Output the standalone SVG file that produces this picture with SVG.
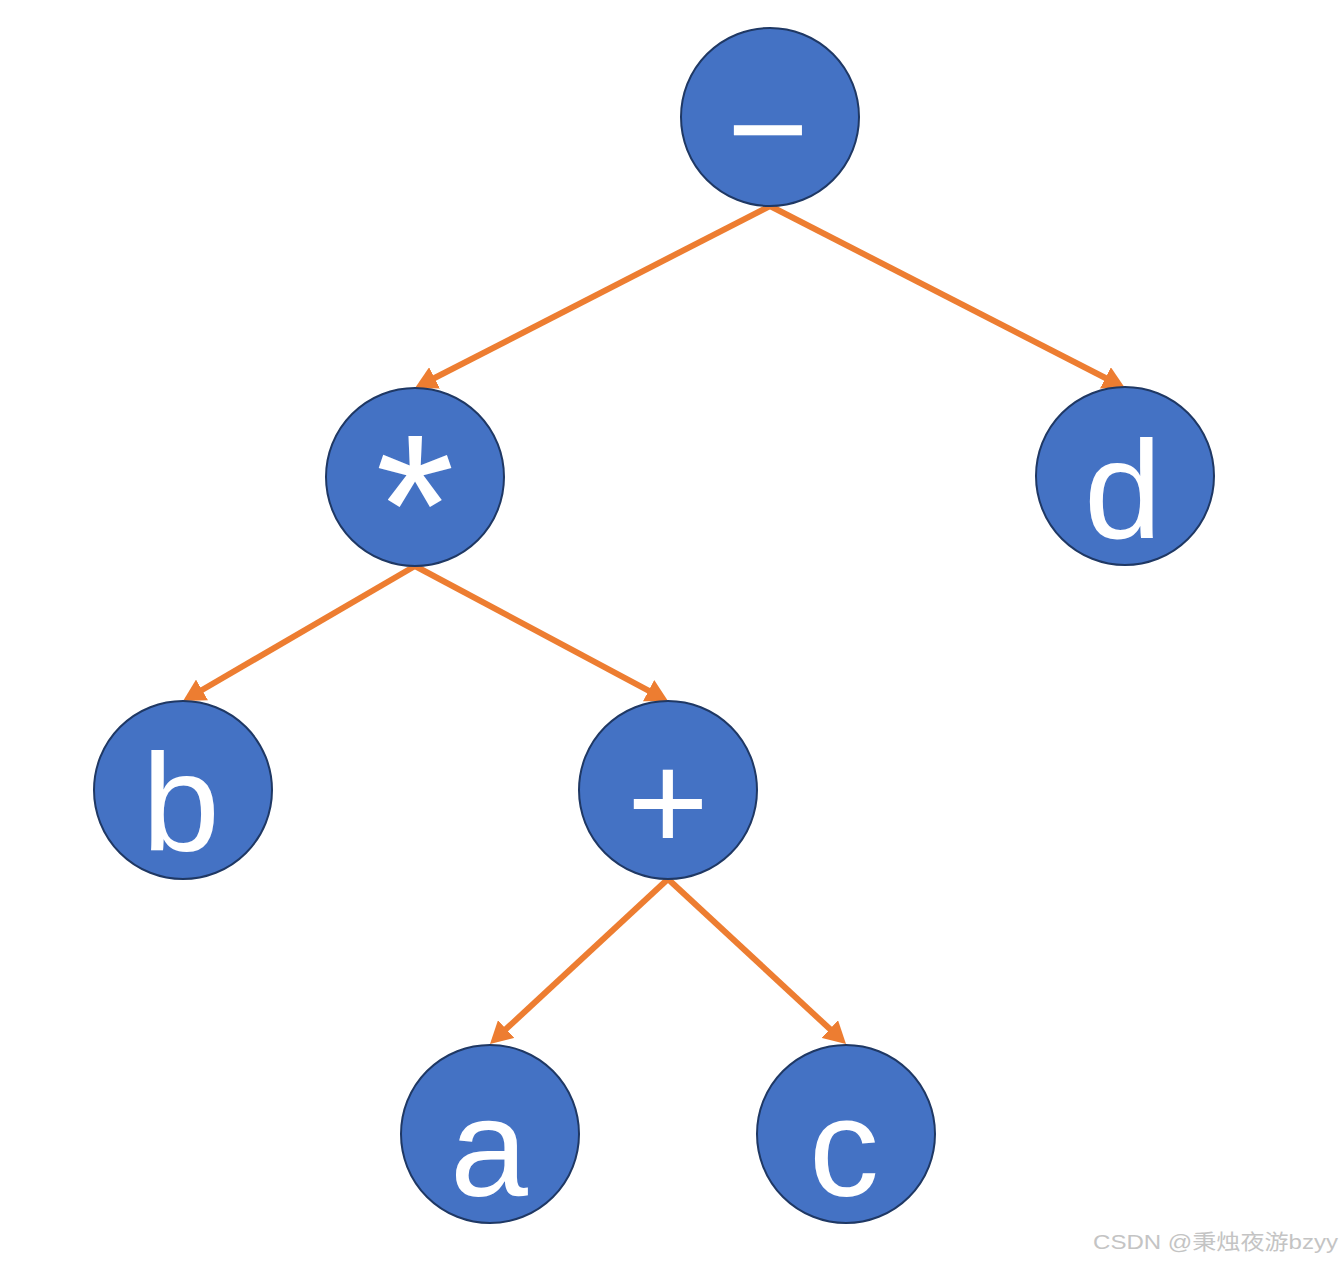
<svg xmlns="http://www.w3.org/2000/svg" width="1343" height="1265" viewBox="0 0 1343 1265">
<style>
.node circle { fill: #4472C4; stroke: #1F3864; stroke-width: 2; }
.node text { fill: #FFFFFF; font-family: "Liberation Sans", Arial, sans-serif; font-size: 140px; text-anchor: middle; }
.edge { stroke: #ED7D31; stroke-width: 6; fill: none; marker-end: url(#arrow); }
.wm { fill: #C4C4C4; font-family: "Liberation Sans", "Noto Sans CJK SC", sans-serif; font-size: 21px; }
</style>
<defs>
<marker id="arrow" markerUnits="userSpaceOnUse" markerWidth="22" markerHeight="24" refX="10" refY="12" orient="auto">
<path d="M0,0 L22,12 L0,24 z" fill="#ED7D31"/>
</marker>
</defs>
<rect width="1343" height="1265" fill="#FFFFFF"/>
<g id="connectors">
<line class="edge" x1="770" y1="206" x2="425.7" y2="382.5"/>
<line class="edge" x1="770" y1="206" x2="1114.3" y2="382.5"/>
<line class="edge" x1="415" y1="566" x2="193.4" y2="695"/>
<line class="edge" x1="415" y1="566" x2="657.4" y2="695.4"/>
<line class="edge" x1="668" y1="879" x2="498.8" y2="1035.8"/>
<line class="edge" x1="668" y1="879" x2="837.2" y2="1035.8"/>
</g>
<g id="node-minus" class="node">
<circle cx="770" cy="117" r="89"/>
<text x="768" y="177">−</text>
</g>
<g id="node-mul" class="node">
<circle cx="415" cy="477" r="89"/>
<text x="415" y="575" style="font-size:203px">*</text>
</g>
<g id="node-d" class="node">
<circle cx="1125" cy="476" r="89"/>
<text x="1123" y="538">d</text>
</g>
<g id="node-b" class="node">
<circle cx="183" cy="790" r="89"/>
<text x="181" y="851">b</text>
</g>
<g id="node-plus" class="node">
<circle cx="668" cy="790" r="89"/>
<text x="668" y="850">+</text>
</g>
<g id="node-a" class="node">
<circle cx="490" cy="1134" r="89"/>
<text x="489" y="1196">a</text>
</g>
<g id="node-c" class="node">
<circle cx="846" cy="1134" r="89"/>
<text x="844" y="1196">c</text>
</g>
<text class="wm" x="1093" y="1249" textLength="245" lengthAdjust="spacingAndGlyphs">CSDN @秉烛夜游bzyy</text>
</svg>
